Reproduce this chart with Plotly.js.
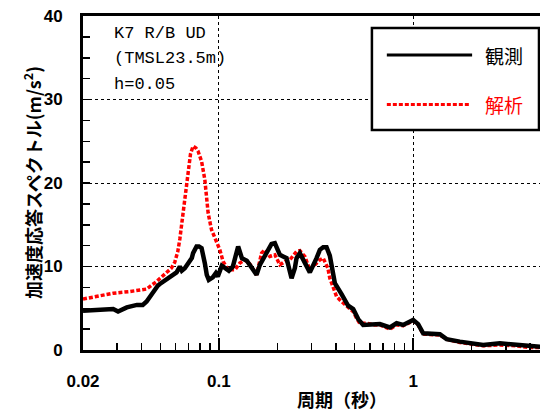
<!DOCTYPE html>
<html><head><meta charset="utf-8">
<script src="https://cdn.plot.ly/plotly-3.0.1.min.js"></script>
<style>html,body{margin:0;padding:0;overflow:hidden;background:#fff}</style>
</head><body><div id="chart" style="width:560px;height:412px"></div>
<script>
// 観測 (observed)
const periodObs = [0.0200,0.0244,0.0286,0.0303,0.0336,0.0379,0.0406,0.0425,0.0431,0.0459,0.0485,0.0497,0.0538,0.0560,0.0580,0.0606,0.0630,0.0645,0.0668,0.0695,0.0726,0.0737,0.0768,0.0790,0.0815,0.0847,0.0867,0.0888,0.0931,0.0965,0.0988,0.1036,0.1061,0.1126,0.1181,0.1233,0.1257,0.1314,0.1393,0.1501,0.1563,0.1626,0.1659,0.1766,0.1867,0.1942,0.2061,0.2143,0.2231,0.2274,0.2367,0.2461,0.2511,0.2612,0.2665,0.2771,0.2940,0.3183,0.3310,0.3443,0.3583,0.3725,0.3802,0.3954,0.4280,0.4541,0.4629,0.4914,0.5212,0.5530,0.5987,0.6741,0.7588,0.8215,0.8882,1.0,1.061,1.126,1.372,1.486,1.739,2.293,2.794,3.405,3.987,5.0];
const accObs = [4.7,4.8,4.9,4.6,5.1,5.4,5.4,5.8,6.0,7.0,7.7,7.9,8.4,8.8,8.9,9.3,10.0,9.5,9.8,10.3,11.0,11.6,12.4,12.4,12.2,10.4,9.0,8.4,8.7,9.2,8.8,10.1,9.9,9.5,10.0,12.0,12.4,11.0,10.7,9.6,9.0,10.2,10.6,11.7,12.7,12.8,11.4,11.2,11.0,10.2,8.6,9.8,11.0,11.6,11.2,10.5,9.3,11.0,12.0,12.3,12.3,11.3,10.3,8.0,6.7,5.8,5.3,4.9,3.7,3.0,3.0,3.1,2.7,3.2,3.0,3.6,3.1,2.0,1.9,1.3,1.0,0.6,0.8,0.6,0.4,0.3];
// 解析 (analysis)
const periodAna = [0.0200,0.0286,0.0348,0.0425,0.0478,0.0538,0.0570,0.0593,0.0615,0.0630,0.0655,0.0682,0.0701,0.0715,0.0737,0.0762,0.0782,0.0815,0.0847,0.0864,0.0881,0.0917,0.0973,0.1012,0.1052,0.1117,0.1139,0.1209,0.1282,0.1361,0.1443,0.1501,0.1563,0.1659,0.1725,0.1830,0.1942,0.2061,0.2190,0.2320,0.2511,0.2612,0.2771,0.2940,0.3120,0.3310,0.3443,0.3512,0.3640,0.3725,0.3875,0.4035,0.4280,0.4629,0.4914,0.5114,0.5310,0.5757,0.6350,0.6741,0.7588,0.8215,0.8882,1.0,1.061,1.126,1.372,1.486,1.739,2.293,2.794,3.405,3.987,5.0];
const accAna = [6.1,6.8,7.0,7.3,8.2,9.2,9.8,10.5,11.8,13.3,16.2,19.2,21.6,23.5,24.4,24.2,23.8,22.6,20.4,18.4,16.4,14.4,12.8,12.0,10.6,9.6,9.6,9.6,10.4,10.8,10.3,9.6,9.0,11.6,12.0,11.2,11.4,10.2,10.6,10.8,11.8,11.9,11.2,9.6,10.2,10.8,11.0,10.6,9.8,8.6,7.4,6.4,5.8,5.1,4.6,3.8,3.2,3.2,3.0,3.0,2.5,3.0,2.9,3.5,3.0,1.9,1.8,1.3,0.9,0.5,0.6,0.5,0.3,0.3];

const seriesNames = ['観測', '解析'];
const seriesColors = ['#000000', '#ff0000'];
const xTickVals = [0.02, 0.1, 1];
const xTickText = ['0.02', '0.1', '1'];
const xMinorVals = [0.03,0.04,0.05,0.06,0.07,0.08,0.09,0.2,0.3,0.4,0.5,0.6,0.7,0.8,0.9,2,3,4,5];
const infoLines = ['K7 R/B UD', '(TMSL23.5m)', 'h=0.05'];
const xTitle = '周期（秒）';
const yTitle = '加速度応答スペクトル(m/s<sup>2</sup>)';

const traces = [
  {x: periodObs, y: accObs, type: 'scatter', mode: 'lines', name: seriesNames[0],
   line: {color: seriesColors[0], width: 4.5}},
  {x: periodAna, y: accAna, type: 'scatter', mode: 'lines', name: seriesNames[1],
   line: {color: seriesColors[1], width: 3.5, dash: '4px,2px'}}
];
// draw analysis below observed
const data = [traces[1], traces[0]];

const tickFont = {family: 'Liberation Sans, Arial, sans-serif', size: 17, color: '#000', weight: 'bold'};
const monoFont = {family: 'Liberation Mono, DejaVu Sans Mono, monospace', size: 17, color: '#000'};
const titleFont = {family: 'Noto Sans CJK JP', size: 18, color: '#000', weight: 'bold'};

const annotations = [];
const infoY = [0.948, 0.873, 0.795];
infoLines.forEach((t, i) => annotations.push({
  xref: 'paper', yref: 'paper', x: 0.062, y: infoY[i], xanchor: 'left', yanchor: 'middle',
  text: t, showarrow: false, font: monoFont
}));
annotations.push({
  xref: 'paper', yref: 'paper', x: 0.556, y: -0.146, xanchor: 'center', yanchor: 'middle',
  text: xTitle, showarrow: false, font: titleFont, borderpad: 0
});
annotations.push({
  xref: 'paper', yref: 'paper', x: -0.1094, y: 0.5, xanchor: 'center', yanchor: 'middle',
  text: yTitle, textangle: -90, showarrow: false, font: titleFont
});
// legend labels
const legY = [0.883, 0.735];
seriesNames.forEach((n, i) => annotations.push({
  xref: 'paper', yref: 'paper', x: 0.858, y: legY[i], xanchor: 'left', yanchor: 'middle',
  text: n, showarrow: false,
  font: {family: 'Noto Sans CJK JP', size: 19, color: seriesColors[i]}
}));

const shapes = [
  {type: 'rect', xref: 'paper', yref: 'paper', x0: 0.620, x1: 0.9785, y0: 0.6587, y1: 0.964,
   line: {color: '#000', width: 2.5}, fillcolor: '#fff', layer: 'above'},
  {type: 'line', xref: 'paper', yref: 'paper', x0: 0.652, x1: 0.835, y0: legY[0], y1: legY[0],
   line: {color: seriesColors[0], width: 3}, layer: 'above'},
  {type: 'line', xref: 'paper', yref: 'paper', x0: 0.652, x1: 0.830, y0: legY[1], y1: legY[1],
   line: {color: seriesColors[1], width: 3, dash: '4px,2px'}, layer: 'above'}
];

const layout = {
  width: 560, height: 412,
  margin: {l: 83, r: 11, t: 16, b: 62},
  paper_bgcolor: '#fff', plot_bgcolor: '#fff',
  showlegend: false,
  xaxis: {
    type: 'log', range: [Math.log10(0.02), Math.log10(5)],
    tickmode: 'array', tickvals: xTickVals, ticktext: xTickText,
    ticks: 'inside', ticklen: 12, tickwidth: 1.5, tickcolor: '#000',
    tickfont: tickFont, ticklabelstandoff: 14,
    showgrid: true, gridcolor: '#000', griddash: 'dot', gridwidth: 1,
    showline: true, linecolor: '#000', linewidth: 3, mirror: true,
    zeroline: false,
    minor: {tickmode: 'array', tickvals: xMinorVals, ticks: 'inside', ticklen: 7, tickwidth: 1.5, tickcolor: '#000', showgrid: false}
  },
  yaxis: {
    range: [0, 40], dtick: 10, tick0: 0,
    ticks: 'inside', ticklen: 7, tickwidth: 1.5, tickcolor: '#000',
    tickfont: tickFont, ticklabelstandoff: 14,
    showgrid: true, gridcolor: '#000', griddash: 'dot', gridwidth: 1,
    showline: true, linecolor: '#000', linewidth: 3, mirror: true,
    zeroline: false,
    minor: {dtick: 2.5, ticks: 'inside', ticklen: 7, tickwidth: 1.5, tickcolor: '#000', showgrid: false}
  },
  annotations: annotations,
  shapes: shapes
};

Plotly.newPlot('chart', data, layout, {staticPlot: true, displayModeBar: false});
</script>
</body></html>
